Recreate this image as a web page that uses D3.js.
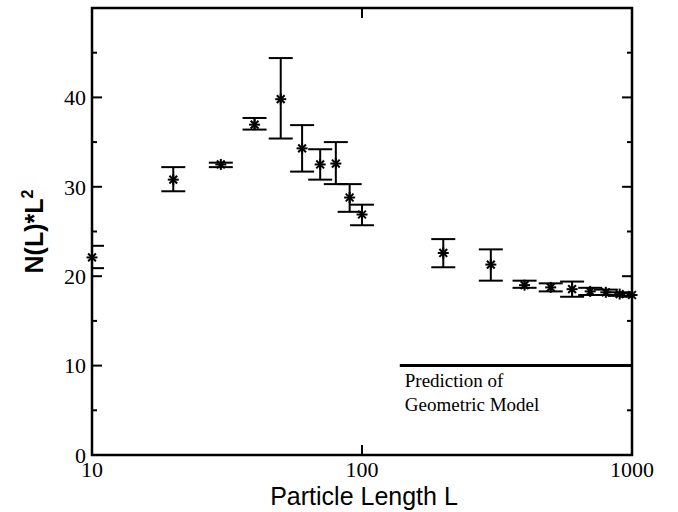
<!DOCTYPE html>
<html><head><meta charset="utf-8">
<script src="https://cdn.jsdelivr.net/npm/d3@7/dist/d3.min.js"></script>
<style>body{margin:0;background:#fff}svg{display:block}</style>
</head><body>
<script>
const lengths = [10, 20, 30, 40, 50, 60, 70, 80, 90, 100, 200, 300, 400, 500, 600, 700, 800, 900, 1000];
const values  = [22.1, 30.8, 32.5, 36.95, 39.8, 34.3, 32.5, 32.6, 28.8, 26.9, 22.6, 21.3, 19.0, 18.75, 18.55, 18.3, 18.2, 18.0, 17.9];
const upper   = [23.4, 32.2, 32.7, 37.7, 44.4, 36.9, 34.2, 35.0, 30.3, 28.0, 24.15, 23.0, 19.5, 19.2, 19.4, 18.7, 18.5, 18.2, 18.1];
const lower   = [20.9, 29.5, 32.2, 36.4, 35.4, 31.7, 30.8, 30.3, 27.2, 25.7, 21.0, 19.5, 18.7, 18.3, 17.7, 17.9, 17.9, 17.8, 17.7];
const xTicks = [10, 100, 1000];
const yMajor = [0, 10, 20, 30, 40];
const yMinor = [5, 15, 25, 35, 45];
const modelValue = 10;
const modelStart = 138;
const modelLabel = ["Prediction of", "Geometric Model"];

const W = 678, H = 512;
const m = {left: 92, right: 46, top: 8, bottom: 57};
const svg = d3.select("body").append("svg").attr("width", W).attr("height", H);
const x = d3.scaleLog().domain([10, 1000]).range([m.left, W - m.right]);
const y = d3.scaleLinear().domain([0, 50]).range([H - m.bottom, m.top]);
const serif = "'Liberation Serif', 'DejaVu Serif', serif";
const sans = "'Liberation Sans', Arial, sans-serif";

svg.append("defs").append("clipPath").attr("id", "plot").append("rect")
  .attr("x", x(10)).attr("y", y(50)).attr("width", x(1000) - x(10)).attr("height", y(0) - y(50));

const g = svg.append("g");
// ticks
const ax = g.append("g").attr("stroke", "#000").attr("stroke-width", 2);
yMajor.concat(yMinor).forEach(v => {
  const len = yMajor.includes(v) ? 10 : 5;
  ax.append("line").attr("x1", x(10)).attr("x2", x(10) + len).attr("y1", y(v)).attr("y2", y(v));
  ax.append("line").attr("x1", x(1000)).attr("x2", x(1000) - len).attr("y1", y(v)).attr("y2", y(v));
});
xTicks.forEach(v => {
  ax.append("line").attr("x1", x(v)).attr("x2", x(v)).attr("y1", y(0)).attr("y2", y(0) - 10);
  ax.append("line").attr("x1", x(v)).attr("x2", x(v)).attr("y1", y(50)).attr("y2", y(50) + 10);
});
// frame
g.append("rect").attr("x", x(10)).attr("y", y(50)).attr("width", x(1000) - x(10)).attr("height", y(0) - y(50))
  .attr("fill", "none").attr("stroke", "#000").attr("stroke-width", 2.5);

// tick labels
g.selectAll(".yl").data(yMajor).join("text").attr("x", x(10) - 6).attr("y", d => y(d)).attr("dy", "0.35em")
  .attr("text-anchor", "end").attr("font-family", serif).attr("font-size", 22).text(d => d);
g.selectAll(".xl").data(xTicks).join("text").attr("x", d => x(d)).attr("y", y(0) + 22)
  .attr("text-anchor", "middle").attr("font-family", serif).attr("font-size", 22).text(d => d);

// axis titles
g.append("text").attr("x", (x(10) + x(1000)) / 2 + 2).attr("y", 505).attr("text-anchor", "middle")
  .attr("font-family", sans).attr("font-size", 25).text("Particle Length L");
const yt = g.append("text").attr("transform", `translate(43,${(y(0) + y(50)) / 2}) rotate(-90)`)
  .attr("text-anchor", "middle").attr("font-family", sans).attr("font-size", 25).attr("font-weight", "bold");
yt.append("tspan").text("N(L)*L");
yt.append("tspan").attr("font-size", 16).attr("dy", -10).text("2");

// model line
g.append("line").attr("x1", x(modelStart)).attr("x2", x(1000)).attr("y1", y(modelValue)).attr("y2", y(modelValue))
  .attr("stroke", "#000").attr("stroke-width", 3);
g.selectAll(".ml").data(modelLabel).join("text").attr("x", x(modelStart) + 5).attr("y", (d, i) => 387 + i * 24)
  .attr("font-family", serif).attr("font-size", 19).text(d => d);

// error bars (clipped to plot area)
const data = lengths.map((L, i) => ({L, v: values[i], hi: upper[i], lo: lower[i]}));
const eb = g.append("g").attr("stroke", "#000").attr("stroke-width", 2).attr("clip-path", "url(#plot)");
data.forEach(d => {
  const cx = x(d.L);
  eb.append("line").attr("x1", cx).attr("x2", cx).attr("y1", y(d.hi)).attr("y2", y(d.lo));
  [d.hi, d.lo].forEach(v => eb.append("line").attr("x1", cx - 12).attr("x2", cx + 12).attr("y1", y(v)).attr("y2", y(v)));
});
// markers
const r = 5.5;
const mk = g.append("g").attr("stroke", "#000").attr("stroke-width", 2);
data.forEach(d => {
  const cx = x(d.L), cy = y(d.v);
  [0, 45, 90, 135].forEach(a => {
    const t = a * Math.PI / 180;
    mk.append("line").attr("x1", cx - r * Math.cos(t)).attr("x2", cx + r * Math.cos(t))
      .attr("y1", cy - r * Math.sin(t)).attr("y2", cy + r * Math.sin(t));
  });
});
</script>
</body></html>
